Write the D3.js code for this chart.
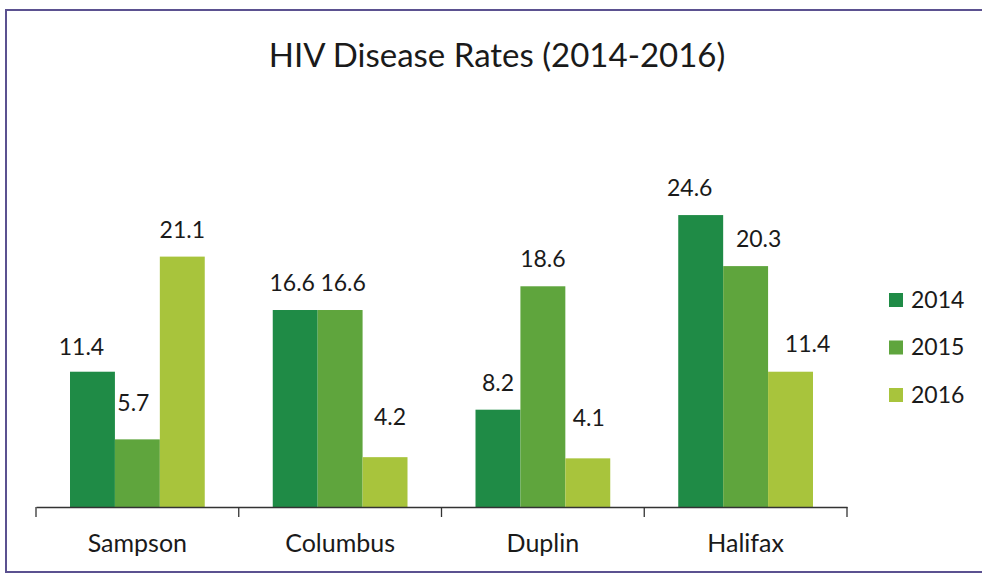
<!DOCTYPE html>
<html>
<head>
<meta charset="utf-8">
<script src="https://cdn.jsdelivr.net/npm/d3@7"></script>
<style>
  html, body { margin: 0; padding: 0; background: #fff; }
  svg { display: block; }
  text { font-family: Lato, "Open Sans", sans-serif; fill: #1a1a1a; }
</style>
</head>
<body>
<svg id="chart" width="982" height="575"></svg>
<script>
// ---- data ----
const categories = ["Sampson", "Columbus", "Duplin", "Halifax"];
const seriesNames = ["2014", "2015", "2016"];
const values2014 = [11.4, 16.6, 8.2, 24.6];
const values2015 = [5.7, 16.6, 18.6, 20.3];
const values2016 = [21.1, 4.2, 4.1, 11.4];
const title = "HIV Disease Rates (2014-2016)";

// ---- layout / style ----
const colors = ["#1f8b46", "#5fa53d", "#a8c43c"];
const W = 982, H = 575;
const plot = { left: 36, right: 847, top: 151, bottom: 507 };
// manual label nudges (dx, dy) as in the reference, per series x category
const labelNudge = [
  [[-11, 2], [-3, 0], [0, 0], [-11, 0]],
  [[-4, -9], [3, 0], [0, 0], [13, 0]],
  [[0, 0], [5, -13], [1, -13], [17, -1]]
];

const series = [values2014, values2015, values2016];
const table = categories.map((c, i) => ({ cat: c, vals: series.map(s => s[i]) }));

const svg = d3.select("#chart");

// frame
svg.append("path")
  .attr("d", `M${W + 5},10 H6 V572 H${W + 5}`)
  .attr("fill", "none").attr("stroke", "#5b5190").attr("stroke-width", 2);

// title
svg.append("text")
  .attr("x", 497).attr("y", 67)
  .attr("text-anchor", "middle")
  .style("font-size", "33px")
  .text(title);

const x0 = d3.scaleBand().domain(categories).range([plot.left, plot.right]).paddingInner(0).paddingOuter(0);
const groupPad = 34;
const x1 = d3.scaleBand().domain(seriesNames)
  .range([groupPad, x0.bandwidth() - groupPad]).padding(0);
const y = d3.scaleLinear().domain([0, 30]).range([plot.bottom, plot.top]);

// bars
const g = svg.append("g");
table.forEach((row, ci) => {
  row.vals.forEach((v, si) => {
    const bx = x0(row.cat) + x1(seriesNames[si]);
    g.append("rect")
      .attr("x", bx).attr("y", y(v))
      .attr("width", x1.bandwidth()).attr("height", y(0) - y(v))
      .attr("fill", colors[si]);
    const n = labelNudge[si][ci];
    g.append("text")
      .attr("x", bx + x1.bandwidth() / 2 + n[0])
      .attr("y", y(v) - 19 + n[1])
      .attr("text-anchor", "middle")
      .style("font-size", "23px")
      .text(v.toFixed(1));
  });
});

// axis
const axis = d3.axisBottom(x0).tickSize(0).tickPadding(20);
const ag = svg.append("g").attr("transform", `translate(0,${plot.bottom})`).call(axis);
ag.select(".domain").attr("stroke", "#333").attr("stroke-width", 1.3);
ag.selectAll(".tick text").style("font-size", "25px").style("font-family", "Lato, sans-serif")
  .attr("fill", "#1a1a1a").attr("dy", null).attr("y", 45);
// boundary ticks between categories
const bounds = categories.map(c => x0(c)).concat([x0(categories[categories.length - 1]) + x0.bandwidth()]);
ag.selectAll(".btick").data(bounds).enter().append("line")
  .attr("x1", d => d).attr("x2", d => d)
  .attr("y1", 0).attr("y2", 10)
  .attr("stroke", "#333").attr("stroke-width", 1.3);

// legend
const lg = svg.append("g").attr("transform", "translate(889,293)");
seriesNames.forEach((s, i) => {
  const row = lg.append("g").attr("transform", `translate(0,${i * 47.5})`);
  row.append("rect").attr("width", 14).attr("height", 14).attr("fill", colors[i]);
  row.append("text").attr("x", 22).attr("y", 14.5).style("font-size", "23px").text(s);
});
</script>
</body>
</html>
